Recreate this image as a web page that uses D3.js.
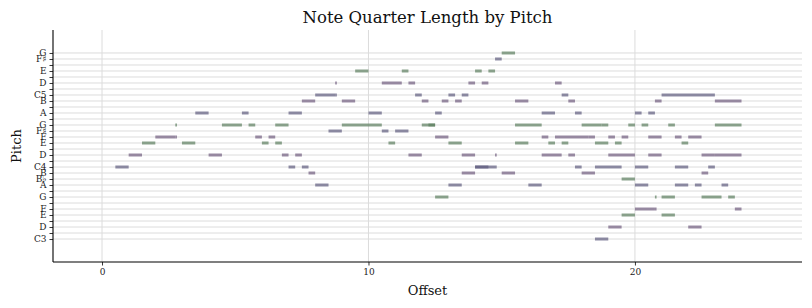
<!DOCTYPE html>
<html>
<head>
<meta charset="utf-8">
<script src="https://cdn.jsdelivr.net/npm/d3@7"></script>
<style>
  body { margin: 0; background: #fff; }
  svg text { font-family: "DejaVu Serif", serif; }
</style>
</head>
<body>
<svg id="chart" width="812" height="308"></svg>
<script>
// pitch rows (midi numbers) that carry a label, and their names
const labelPitches = [48, 50, 52, 53, 55, 57, 58, 59, 60, 62, 64, 65, 66, 67, 69, 71, 72, 74, 76, 78, 79];
const labelNames = ["C3", "D", "E", "F", "G", "A", "B♭", "B", "C4", "D", "E", "F", "F♯", "G", "A", "B", "C5", "D", "E", "F♯", "G"];
const xTicks = [0, 10, 20];

// notes: [midi, offset, quarterLength]
const notes = [
  [79, 15.0, 0.5],
  [78, 14.75, 0.25],
  [76, 9.5, 0.5], [76, 11.25, 0.25], [76, 14.0, 0.25], [76, 14.5, 0.25],
  [74, 8.75, 0.0625], [74, 10.5, 0.75], [74, 11.5, 0.25], [74, 13.75, 0.25], [74, 14.25, 0.25], [74, 17.0, 0.25],
  [72, 8.0, 0.75], [72, 8.75, 0.0625], [72, 11.75, 0.25], [72, 13.0, 0.25], [72, 13.5, 0.25], [72, 17.25, 0.25], [72, 21.0, 2.0],
  [71, 7.5, 0.5], [71, 9.0, 0.5], [71, 12.0, 0.25], [71, 12.75, 0.25], [71, 13.25, 0.25], [71, 15.5, 0.5], [71, 17.5, 0.25], [71, 20.75, 0.25], [71, 23.0, 1.0],
  [69, 3.5, 0.5], [69, 5.25, 0.25], [69, 7.0, 0.5], [69, 10.0, 0.5], [69, 12.5, 0.25], [69, 16.5, 0.5], [69, 17.75, 0.25], [69, 20.0, 0.25], [69, 20.5, 0.25],
  [67, 2.75, 0.0625], [67, 4.5, 0.75], [67, 5.5, 0.25], [67, 6.5, 0.5], [67, 9.0, 1.5], [67, 12.0, 0.5], [67, 12.25, 0.25], [67, 15.5, 1.0], [67, 18.0, 0.75], [67, 18.75, 0.25], [67, 19.75, 0.25], [67, 20.25, 0.25], [67, 21.25, 0.25], [67, 23.0, 1.0],
  [66, 8.5, 0.5], [66, 10.5, 0.25], [66, 11.0, 0.5],
  [65, 2.0, 0.75], [65, 2.75, 0.0625], [65, 5.75, 0.25], [65, 6.25, 0.25], [65, 12.5, 0.5], [65, 16.5, 0.25], [65, 17.0, 1.25], [65, 18.25, 0.25], [65, 19.0, 0.25], [65, 19.5, 0.25], [65, 20.5, 0.5], [65, 21.5, 0.25], [65, 22.0, 0.5],
  [64, 1.5, 0.5], [64, 3.0, 0.5], [64, 6.0, 0.25], [64, 6.5, 0.25], [64, 10.75, 0.25], [64, 13.0, 0.5], [64, 15.5, 0.5], [64, 16.75, 0.25], [64, 17.25, 0.25], [64, 18.5, 0.5], [64, 19.25, 0.25], [64, 21.75, 0.25],
  [62, 1.0, 0.5], [62, 4.0, 0.5], [62, 6.75, 0.25], [62, 7.25, 0.25], [62, 11.5, 0.5], [62, 13.5, 0.5], [62, 14.75, 0.0625], [62, 16.5, 0.75], [62, 17.5, 0.25], [62, 19.0, 1.0], [62, 20.5, 0.5], [62, 22.5, 0.5], [62, 23.0, 1.0],
  [60, 0.5, 0.5], [60, 7.0, 0.25], [60, 7.5, 0.25], [60, 14.0, 0.75], [60, 14.0, 0.5], [60, 14.75, 0.0625], [60, 17.75, 0.25], [60, 18.5, 1.0], [60, 20.0, 0.5], [60, 21.5, 0.5], [60, 22.75, 0.25],
  [59, 7.75, 0.25], [59, 13.5, 0.5], [59, 15.0, 0.5], [59, 18.0, 0.5], [59, 22.5, 0.25],
  [58, 19.5, 0.5],
  [57, 8.0, 0.5], [57, 13.0, 0.5], [57, 16.0, 0.5], [57, 20.0, 0.5], [57, 21.5, 0.5], [57, 22.25, 0.25], [57, 23.25, 0.25],
  [55, 12.5, 0.5], [55, 20.75, 0.0625], [55, 21.0, 0.5], [55, 22.5, 0.75], [55, 23.5, 0.25],
  [53, 20.0, 0.75], [53, 20.75, 0.0625], [53, 23.75, 0.25],
  [52, 19.5, 0.5], [52, 21.0, 0.5],
  [50, 19.0, 0.5], [50, 22.0, 0.5],
  [48, 18.5, 0.5]
];

const barColors = ["#605c7f", "#5c7f60", "#715c7f"];

const svg = d3.select("#chart");
const margin = { top: 30, right: 10, bottom: 46, left: 53 };
const width = +svg.attr("width");
const height = +svg.attr("height");

const x = d3.scaleLinear().domain([-1.84, 26.27]).range([margin.left, width - margin.right]);
const y = d3.scaleLinear().domain([44.17, 82.83]).range([height - margin.bottom, margin.top]);

const lowPitch = d3.min(labelPitches);
const highPitch = d3.max(labelPitches);
const allPitches = d3.range(lowPitch, highPitch + 1);
const nameOf = new Map(labelPitches.map((p, i) => [p, labelNames[i]]));

// grid
const grid = svg.append("g");
grid.selectAll("line.h")
  .data(allPitches)
  .enter()
  .append("line")
  .attr("x1", margin.left)
  .attr("x2", width - margin.right)
  .attr("y1", (d) => y(d))
  .attr("y2", (d) => y(d))
  .attr("stroke", "#dcdcdc")
  .attr("stroke-width", 1);
grid.selectAll("line.v")
  .data(xTicks)
  .enter()
  .append("line")
  .attr("x1", (d) => x(d))
  .attr("x2", (d) => x(d))
  .attr("y1", margin.top)
  .attr("y2", height - margin.bottom)
  .attr("stroke", "#dcdcdc")
  .attr("stroke-width", 1);

// note bars
svg.append("g")
  .selectAll("rect")
  .data(notes)
  .enter()
  .append("rect")
  .attr("x", (d) => x(d[1]))
  .attr("width", (d) => x(d[1] + d[2]) - x(d[1]))
  .attr("y", (d) => y(d[0] + 0.25))
  .attr("height", (d) => y(d[0] - 0.25) - y(d[0] + 0.25))
  .attr("fill", (d) => barColors[(d[0] - lowPitch) % 3])
  .attr("fill-opacity", 0.7);

// axes
const xAxis = d3.axisBottom(x).tickValues(xTicks).tickSize(3.5).tickPadding(3);
const yAxis = d3.axisLeft(y)
  .tickValues(allPitches)
  .tickFormat((d) => nameOf.get(d) || "")
  .tickSize(3.5)
  .tickPadding(3);

const gx = svg.append("g")
  .attr("transform", `translate(0,${height - margin.bottom})`)
  .call(xAxis);
const gy = svg.append("g")
  .attr("transform", `translate(${margin.left},0)`)
  .call(yAxis);

[gx, gy].forEach((g) => {
  g.select(".domain").attr("stroke", "#000").attr("stroke-width", 1.1);
  g.selectAll(".tick line").attr("stroke", "#000").attr("stroke-width", 0.8);
  g.selectAll(".tick text")
    .attr("fill", "#222")
    .style("font-family", "DejaVu Serif, serif")
    .style("font-size", "9px");
});
gx.select(".domain").attr("d", `M${margin.left},0H${width - margin.right}`);
gy.select(".domain").attr("d", `M0,${margin.top}V${height - margin.bottom}`);

// title and axis labels
svg.append("text")
  .attr("x", (margin.left + width - margin.right) / 2)
  .attr("y", 23)
  .attr("text-anchor", "middle")
  .style("font-size", "16.5px")
  .attr("fill", "#111")
  .text("Note Quarter Length by Pitch");

svg.append("text")
  .attr("x", (margin.left + width - margin.right) / 2)
  .attr("y", 295)
  .attr("text-anchor", "middle")
  .style("font-size", "13px")
  .attr("fill", "#111")
  .text("Offset");

svg.append("text")
  .attr("transform", `translate(21,${(margin.top + height - margin.bottom) / 2}) rotate(-90)`)
  .attr("text-anchor", "middle")
  .style("font-size", "13px")
  .attr("fill", "#111")
  .text("Pitch");
</script>
</body>
</html>
